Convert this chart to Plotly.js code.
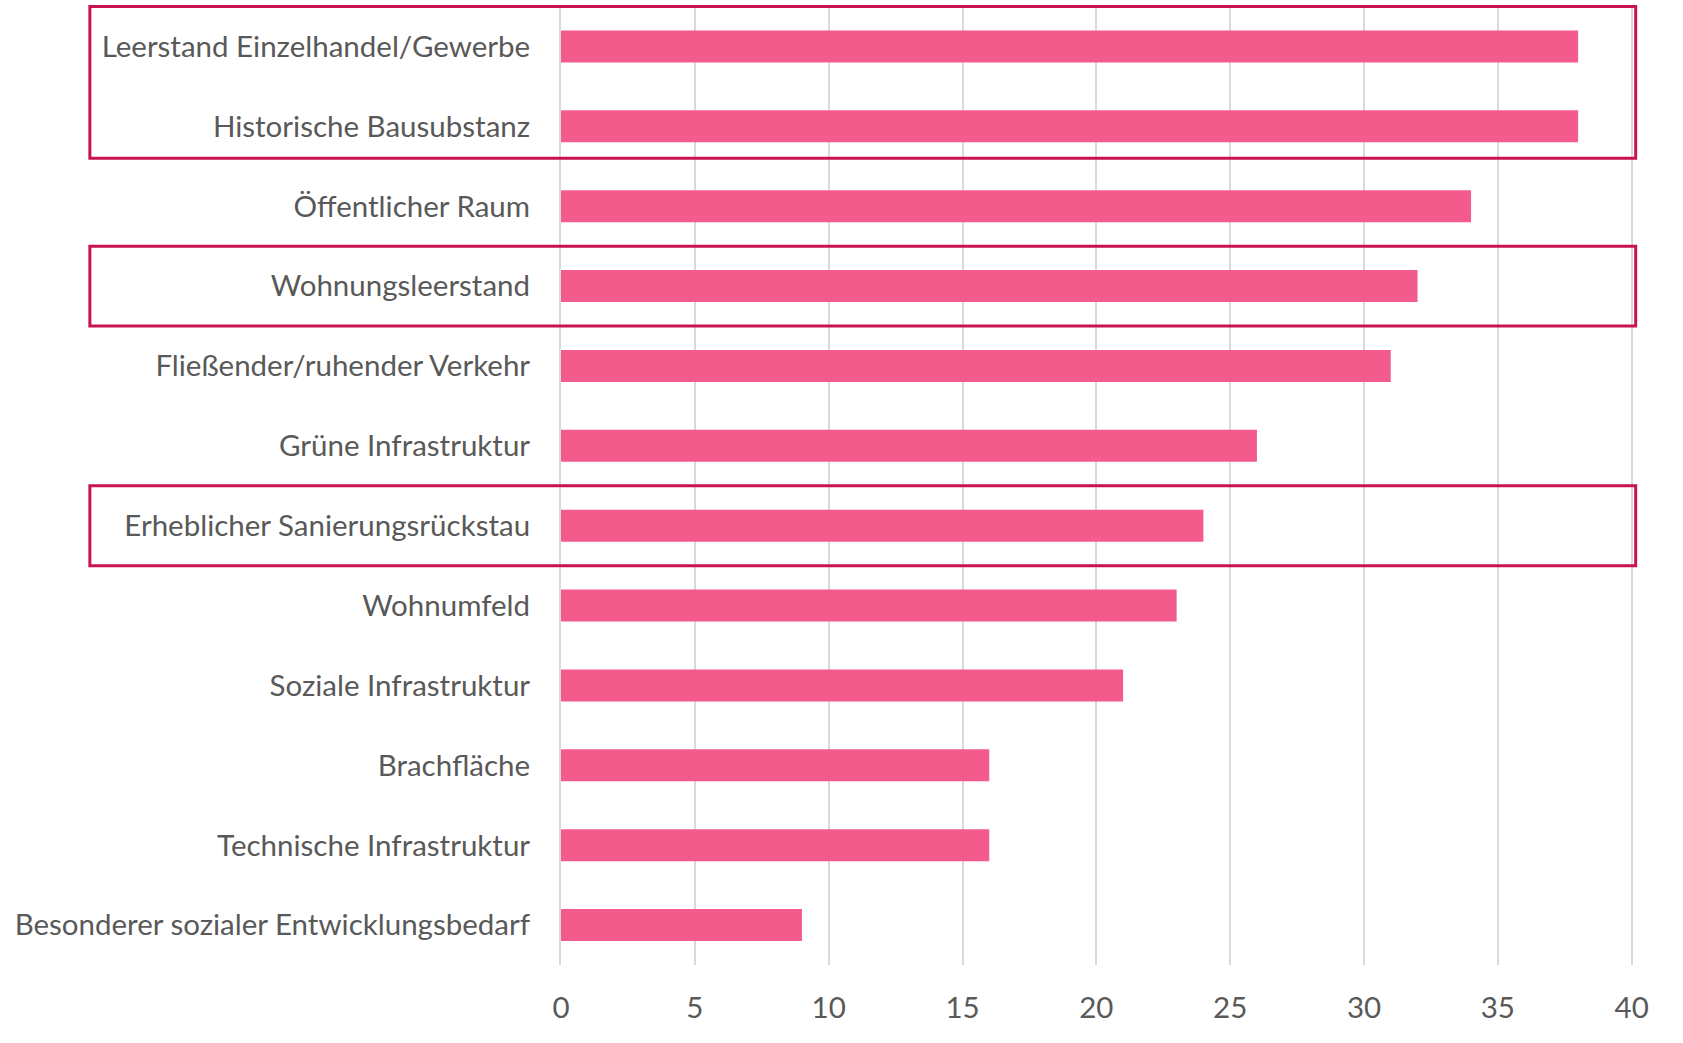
<!DOCTYPE html>
<html>
<head>
<meta charset="utf-8">
<script src="https://cdn.plot.ly/plotly-3.0.1.min.js"></script>
<style>html,body{margin:0;padding:0;background:#fff;}#chart{width:1683px;height:1043px;}</style>
</head>
<body>
<div id="chart"></div>
<script>
const categories = [
  "Leerstand Einzelhandel/Gewerbe",
  "Historische Bausubstanz",
  "Öffentlicher Raum",
  "Wohnungsleerstand",
  "Fließender/ruhender Verkehr",
  "Grüne Infrastruktur",
  "Erheblicher Sanierungsrückstau",
  "Wohnumfeld",
  "Soziale Infrastruktur",
  "Brachfläche",
  "Technische Infrastruktur",
  "Besonderer sozialer Entwicklungsbedarf"
];
const values = [38, 38, 34, 32, 31, 26, 24, 23, 21, 16, 16, 9];
const tickVals = [0, 5, 10, 15, 20, 25, 30, 35, 40];
const tickText = ["0", "5", "10", "15", "20", "25", "30", "35", "40"];
// highlighted groups: [first category, last category]
const highlightGroups = [
  ["Leerstand Einzelhandel/Gewerbe", "Historische Bausubstanz"],
  ["Wohnungsleerstand", "Wohnungsleerstand"],
  ["Erheblicher Sanierungsrückstau", "Erheblicher Sanierungsrückstau"]
];

const boxColor = "#C8134F";
const shapes = highlightGroups.map((g, i) => {
  const a = categories.indexOf(g[0]);
  const b = categories.indexOf(g[1]);
  return {
    type: "rect", xref: "paper", yref: "y",
    x0: -0.4395, x1: 1.0025,
    y0: a - 0.5, y1: b + (i === 0 ? 0.4 : 0.5),
    line: {color: boxColor, width: 3},
    fillcolor: "rgba(0,0,0,0)",
    layer: "above"
  };
});

const trace = {
  type: "bar",
  orientation: "h",
  y: categories,
  x: values,
  width: 0.4,
  marker: {color: "#F35B8C", line: {width: 0}},
  hoverinfo: "x+y"
};

const font = {family: "Lato, 'Open Sans', sans-serif", size: 29.5, color: "#595959"};

const layout = {
  width: 1683, height: 1043,
  margin: {l: 561, r: 50, t: 5, b: 78},
  paper_bgcolor: "#ffffff",
  plot_bgcolor: "#ffffff",
  font: font,
  showlegend: false,
  bargap: 0.6,
  xaxis: {
    range: [0, 40.05],
    tickvals: tickVals,
    ticktext: tickText,
    showgrid: true,
    gridcolor: "#D9D9D9",
    gridwidth: 2,
    zeroline: false,
    showline: false,
    ticks: "",
    ticklabelstandoff: 22,
    tickfont: font,
    fixedrange: true
  },
  yaxis: {
    type: "category",
    autorange: "reversed",
    showgrid: false,
    zeroline: false,
    showline: true,
    linecolor: "#D9D9D9",
    linewidth: 2,
    ticks: "",
    ticklabelstandoff: 23,
    tickfont: font,
    fixedrange: true
  },
  shapes: shapes
};

Plotly.newPlot("chart", [trace], layout, {displayModeBar: false, staticPlot: true});
</script>
</body>
</html>
